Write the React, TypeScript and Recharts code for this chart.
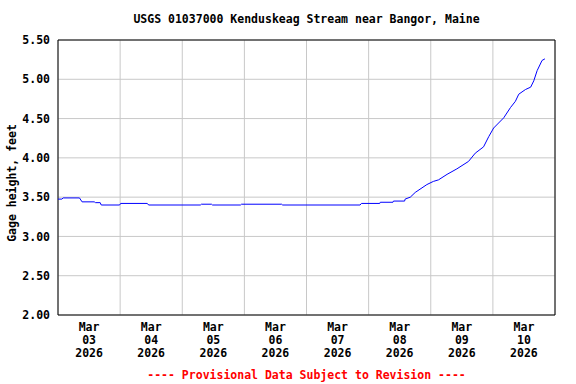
import { LineChart, Line, XAxis, YAxis, CartesianGrid, ReferenceArea } from "recharts";

// hours after Mar 03 2026 00:00 and gage height (feet)
const hours = [
  0, 1.5, 2, 8.3, 9.3, 14, 14.5, 16.3, 16.7, 23.8, 24.2, 34.5, 35, 55, 55.4, 59.3, 59.7, 70.5, 70.9, 86.4,
  86.8, 116.7, 117.2, 124.3, 124.5, 129.4, 129.6, 133.9, 134.1, 136.1, 138, 142.5, 145, 147, 150.3, 154.1,
  158.6, 161.2, 164.4, 166.4, 168.3, 172.2, 174.8, 176.7, 178, 180.6, 182.6, 183.8, 185.1, 187, 188.1,
];
const gageHeight = [
  3.475, 3.475, 3.49, 3.49, 3.44, 3.44, 3.43, 3.43, 3.4, 3.4, 3.42, 3.42, 3.4, 3.4, 3.41, 3.41, 3.4, 3.4, 3.41, 3.41,
  3.4, 3.4, 3.42, 3.42, 3.435, 3.435, 3.45, 3.45, 3.475, 3.5, 3.56, 3.66, 3.7, 3.72, 3.79, 3.86,
  3.955, 4.06, 4.14, 4.27, 4.38, 4.51, 4.64, 4.72, 4.81, 4.87, 4.9, 4.98, 5.11, 5.24, 5.26,
];

const dayBoundaries = [0, 24, 48, 72, 96, 120, 144, 168, 192];
const labelTicks = [12, 36, 60, 84, 108, 132, 156, 180];
const dayLabels = ["03", "04", "05", "06", "07", "08", "09", "10"];
const yTicks = [2, 2.5, 3, 3.5, 4, 4.5, 5, 5.5];

const data = hours.map((h, i) => ({ h, gage: gageHeight[i] }));

const font = "'DejaVu Sans Mono', monospace";

function DayTick(props: any) {
  const { x, y, payload } = props;
  const i = labelTicks.indexOf(payload.value);
  return (
    <text x={x} y={y} textAnchor="middle" fontFamily={font} fontWeight="bold" fontSize={11.5} fill="#000">
      <tspan x={x} dy={8}>Mar</tspan>
      <tspan x={x} dy={13}>{dayLabels[i]}</tspan>
      <tspan x={x} dy={13}>2026</tspan>
    </text>
  );
}

export default function App() {
  return (
    <div style={{ position: "absolute", left: 0, top: 0, width: 576, height: 384, background: "#fff" }}>
      <div
        style={{
          position: "absolute", left: 58, top: 12, width: 497, textAlign: "center",
          fontFamily: font, fontWeight: "bold", fontSize: 11.5, lineHeight: "14px",
        }}
      >
        USGS 01037000 Kenduskeag Stream near Bangor, Maine
      </div>
      <LineChart width={576} height={384} data={data} margin={{ top: 40, right: 21, bottom: 0, left: 8 }}>
        <CartesianGrid stroke="#c8c8c8" verticalValues={dayBoundaries} />
        <XAxis
          type="number"
          dataKey="h"
          domain={[0, 192]}
          ticks={labelTicks}
          tick={<DayTick />}
          axisLine={false}
          tickLine={false}
          height={69}
          interval={0}
        />
        <YAxis
          domain={[2, 5.5]}
          ticks={yTicks}
          tickFormatter={(v: number) => v.toFixed(2)}
          width={50}
          axisLine={false}
          tickLine={false}
          tickSize={0}
          tickMargin={8}
          tick={{ fill: "#000", fontSize: 11.5, fontFamily: font, fontWeight: "bold" }}
          interval={0}
        />
        <ReferenceArea x1={0} x2={192} y1={2} y2={5.5} fill="none" stroke="#000" strokeWidth={1} ifOverflow="visible" />
        <Line type="linear" dataKey="gage" stroke="#0000ff" strokeWidth={1} dot={false} isAnimationActive={false} />
      </LineChart>
      <div
        style={{
          position: "absolute", left: 12, top: 183, transform: "translate(-50%, -50%) rotate(-90deg)",
          whiteSpace: "nowrap", fontFamily: font, fontWeight: "bold", fontSize: 11.5,
        }}
      >
        Gage height, feet
      </div>
      <div
        style={{
          position: "absolute", left: 58, top: 368, width: 497, textAlign: "center", color: "#ff0000",
          fontFamily: font, fontWeight: "bold", fontSize: 11.5, lineHeight: "14px",
        }}
      >
        ---- Provisional Data Subject to Revision ----
      </div>
    </div>
  );
}
